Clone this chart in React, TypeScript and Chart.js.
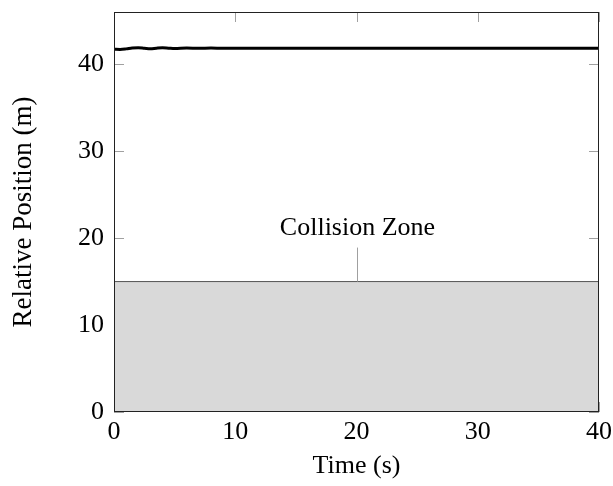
import React, { useEffect, useRef } from "react";
import { Chart, registerables } from "chart.js";

Chart.register(...registerables);

const timeS = [0, 0.5, 1, 1.5, 2, 2.5, 3, 3.5, 4, 4.5, 5, 6, 7, 8, 9, 10, 12, 14, 16, 18, 20, 25, 30, 35, 40];
const relPos = [41.72, 41.7, 41.76, 41.86, 41.9, 41.84, 41.78, 41.84, 41.88, 41.84, 41.8, 41.86, 41.82, 41.85, 41.83, 41.84, 41.83, 41.84, 41.83, 41.84, 41.84, 41.84, 41.84, 41.84, 41.84];
const zoomX = [0, 40];
const zoomY = [15, 15];
const zoomLabel = "Collision Zone";
const zoomLabelAt = 20;
const xTicks = [0, 10, 20, 30, 40];
const yTicks = [0, 10, 20, 30, 40];
const xTitle = "Time (s)";
const yTitle = "Relative Position (m)";

const FONT = "'Liberation Serif', 'Times New Roman', serif";

const axesPlugin = {
  id: "pgfAxes",
  beforeDatasetsDraw(chart: any) {
    const { ctx, chartArea: a, scales } = chart;
    const L = 10;
    ctx.save();
    ctx.strokeStyle = "#a0a0a0";
    ctx.lineWidth = 1;
    ctx.beginPath();
    xTicks.forEach((v) => {
      const px = Math.round(scales.x.getPixelForValue(v)) + 0.5;
      ctx.moveTo(px, a.bottom);
      ctx.lineTo(px, a.bottom - L);
      ctx.moveTo(px, a.top);
      ctx.lineTo(px, a.top + L);
    });
    yTicks.forEach((v) => {
      const py = Math.round(scales.y.getPixelForValue(v)) + 0.5;
      ctx.moveTo(a.left, py);
      ctx.lineTo(a.left + L, py);
      ctx.moveTo(a.right, py);
      ctx.lineTo(a.right - L, py);
    });
    ctx.stroke();
    ctx.restore();
  },
  afterDatasetsDraw(chart: any) {
    const { ctx, chartArea: a, scales } = chart;
    ctx.save();
    const px = Math.round(scales.x.getPixelForValue(zoomLabelAt)) + 0.5;
    const py = scales.y.getPixelForValue(zoomY[0]);
    ctx.strokeStyle = "#a0a0a0";
    ctx.lineWidth = 1;
    ctx.beginPath();
    ctx.moveTo(px, py);
    ctx.lineTo(px, py - 34);
    ctx.stroke();
    ctx.fillStyle = "#000";
    ctx.font = `26px ${FONT}`;
    ctx.textAlign = "center";
    ctx.textBaseline = "middle";
    ctx.fillText(zoomLabel, px, py - 53);
    ctx.strokeStyle = "#222";
    ctx.lineWidth = 1;
    ctx.strokeRect(Math.round(a.left) + 0.5, Math.round(a.top) + 0.5, Math.round(a.right - a.left) - 1, Math.round(a.bottom - a.top) - 1);
    ctx.restore();
  },
};

export default function App() {
  const ref = useRef<HTMLCanvasElement>(null);
  useEffect(() => {
    const chart = new Chart(ref.current!, {
      type: "line",
      data: {
        datasets: [
          {
            data: zoomX.map((x, i) => ({ x, y: zoomY[i] })),
            fill: "origin",
            backgroundColor: "#d9d9d9",
            borderColor: "#555555",
            borderWidth: 1,
            pointRadius: 0,
            tension: 0,
            order: 2,
          },
          {
            data: timeS.map((x, i) => ({ x, y: relPos[i] })),
            fill: false,
            borderColor: "#000000",
            borderWidth: 3,
            pointRadius: 0,
            cubicInterpolationMode: "monotone",
            order: 1,
          },
        ],
      },
      options: {
        animation: false,
        responsive: false,
        maintainAspectRatio: false,
        layout: { padding: { left: 0, right: 14, top: 12, bottom: 0 } },
        plugins: { legend: { display: false }, tooltip: { enabled: false } },
        scales: {
          x: {
            type: "linear",
            min: 0,
            max: 40,
            grid: { display: false, drawTicks: false },
            border: { display: false },
            afterBuildTicks: (s: any) => {
              s.ticks = xTicks.map((v) => ({ value: v }));
            },
            afterFit: (s: any) => {
              s.height = 74;
              s.paddingLeft = 0;
              s.paddingRight = 0;
            },
            ticks: { color: "#000", font: { family: FONT, size: 26 }, padding: 5, maxRotation: 0 },
            title: { display: true, text: xTitle, color: "#000", font: { family: FONT, size: 26 }, padding: { top: 0, bottom: 4 } },
          },
          y: {
            type: "linear",
            min: 0,
            max: 46,
            grid: { display: false, drawTicks: false },
            border: { display: false },
            afterBuildTicks: (s: any) => {
              s.ticks = yTicks.map((v) => ({ value: v }));
            },
            afterFit: (s: any) => {
              s.width = 114;
              s.paddingTop = 0;
              s.paddingBottom = 0;
            },
            ticks: { color: "#000", font: { family: FONT, size: 26 }, padding: 10 },
            title: { display: true, text: yTitle, color: "#000", font: { family: FONT, size: 27 }, padding: { top: 8, bottom: 0 } },
          },
        },
      },
      plugins: [axesPlugin],
    } as any);
    return () => chart.destroy();
  }, []);
  return (
    <div style={{ position: "fixed", left: 0, top: 0, width: 613, height: 486, background: "#fff" }}>
      <canvas ref={ref} width={613} height={486} style={{ width: 613, height: 486 }} />
    </div>
  );
}
